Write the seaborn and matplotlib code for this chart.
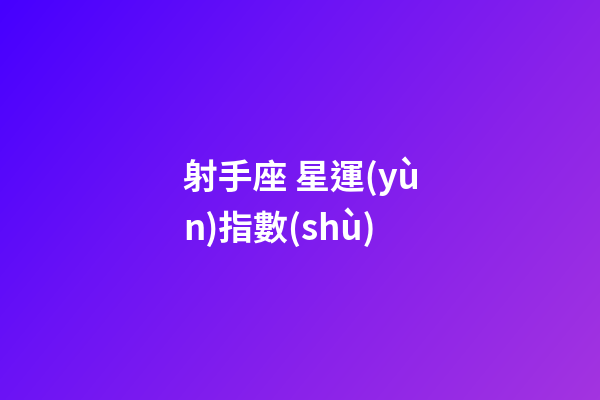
import numpy as np
import matplotlib
matplotlib.use('Agg')
import matplotlib.pyplot as plt
from matplotlib.colors import LinearSegmentedColormap
import seaborn as sns

# Cores do gradiente (canto superior esquerdo -> inferior direito)
cores_gradiente = ['#4600ff', '#6a12f6', '#8a22ea', '#a334e0']
peso_horizontal = 0.65
peso_vertical = 0.35

# Texto do título, em duas linhas
linhas_titulo = ['射手座 星運(yù', 'n)指數(shù)']

sns.set_theme(style='white')
plt.rcParams['font.family'] = ['Noto Sans CJK TC', 'DejaVu Sans']

largura, altura = 600, 400
fig = plt.figure(figsize=(6, 4), dpi=100)
ax = fig.add_axes([0, 0, 1, 1])

xx, yy = np.meshgrid(np.linspace(0, 1, largura), np.linspace(0, 1, altura))
fundo = peso_horizontal * xx + peso_vertical * yy
cmap = LinearSegmentedColormap.from_list('fundo', cores_gradiente)
ax.imshow(fundo, cmap=cmap, aspect='auto', extent=[0, largura, altura, 0],
          vmin=0, vmax=1, interpolation='bilinear')
ax.set_xlim(0, largura)
ax.set_ylim(altura, 0)
ax.axis('off')

y_base = [189, 240]
for texto, y in zip(linhas_titulo, y_base):
    ax.text(183, y, texto, color='white', fontsize=25, fontweight='bold',
            ha='left', va='baseline')

fig.savefig('out.png', dpi=100)
